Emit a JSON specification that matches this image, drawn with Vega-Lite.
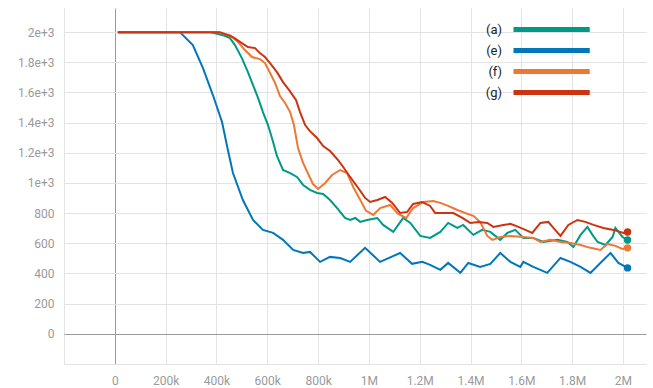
{
  "$schema": "https://vega.github.io/schema/vega-lite/v6.json",
  "width": 582,
  "height": 356,
  "autosize": "none",
  "padding": {"left": 64, "top": 8, "right": 7, "bottom": 24},
  "background": "white",
  "config": {
    "view": {"stroke": null},
    "font": "Roboto",
    "axis": {
      "grid": true, "gridWidth": 1,
      "domain": false, "ticks": false, "title": null, "labelOverlap": false,
      "labelColor": "#9a9a9a", "labelFontSize": 12, "labelFont": "Roboto"
    }
  },
  "data": {"values": [
      {"run":"(e)","step":12000,"value":2000},{"run":"(e)","step":138000,"value":2000},{"run":"(e)","step":256000,"value":2000},{"run":"(e)","step":307000,"value":1914},{"run":"(e)","step":347000,"value":1762},{"run":"(e)","step":386000,"value":1583},{"run":"(e)","step":422000,"value":1404},{"run":"(e)","step":445000,"value":1219},{"run":"(e)","step":465000,"value":1066},{"run":"(e)","step":504000,"value":887},{"run":"(e)","step":544000,"value":755},{"run":"(e)","step":583000,"value":689},{"run":"(e)","step":623000,"value":669},{"run":"(e)","step":662000,"value":623},{"run":"(e)","step":702000,"value":556},{"run":"(e)","step":741000,"value":536},{"run":"(e)","step":768000,"value":543},{"run":"(e)","step":808000,"value":477},{"run":"(e)","step":847000,"value":510},{"run":"(e)","step":887000,"value":503},{"run":"(e)","step":926000,"value":477},{"run":"(e)","step":985000,"value":570},{"run":"(e)","step":1044000,"value":477},{"run":"(e)","step":1123000,"value":536},{"run":"(e)","step":1170000,"value":464},{"run":"(e)","step":1210000,"value":477},{"run":"(e)","step":1241000,"value":457},{"run":"(e)","step":1281000,"value":424},{"run":"(e)","step":1312000,"value":470},{"run":"(e)","step":1360000,"value":404},{"run":"(e)","step":1391000,"value":470},{"run":"(e)","step":1438000,"value":444},{"run":"(e)","step":1478000,"value":464},{"run":"(e)","step":1517000,"value":536},{"run":"(e)","step":1557000,"value":477},{"run":"(e)","step":1596000,"value":444},{"run":"(e)","step":1608000,"value":477},{"run":"(e)","step":1647000,"value":444},{"run":"(e)","step":1702000,"value":404},{"run":"(e)","step":1754000,"value":503},{"run":"(e)","step":1793000,"value":477},{"run":"(e)","step":1833000,"value":444},{"run":"(e)","step":1872000,"value":404},{"run":"(e)","step":1911000,"value":470},{"run":"(e)","step":1951000,"value":536},{"run":"(e)","step":1982000,"value":470},{"run":"(e)","step":2018000,"value":437},

      {"run":"(a)","step":12000,"value":2000},{"run":"(a)","step":374000,"value":2000},{"run":"(a)","step":426000,"value":1980},{"run":"(a)","step":453000,"value":1960},{"run":"(a)","step":473000,"value":1914},{"run":"(a)","step":500000,"value":1828},{"run":"(a)","step":524000,"value":1735},{"run":"(a)","step":544000,"value":1649},{"run":"(a)","step":564000,"value":1563},{"run":"(a)","step":583000,"value":1470},{"run":"(a)","step":603000,"value":1384},{"run":"(a)","step":623000,"value":1272},{"run":"(a)","step":638000,"value":1179},{"run":"(a)","step":662000,"value":1086},{"run":"(a)","step":690000,"value":1066},{"run":"(a)","step":717000,"value":1040},{"run":"(a)","step":741000,"value":987},{"run":"(a)","step":768000,"value":954},{"run":"(a)","step":796000,"value":934},{"run":"(a)","step":820000,"value":927},{"run":"(a)","step":847000,"value":887},{"run":"(a)","step":875000,"value":834},{"run":"(a)","step":906000,"value":768},{"run":"(a)","step":926000,"value":755},{"run":"(a)","step":946000,"value":768},{"run":"(a)","step":966000,"value":742},{"run":"(a)","step":993000,"value":755},{"run":"(a)","step":1033000,"value":768},{"run":"(a)","step":1056000,"value":722},{"run":"(a)","step":1096000,"value":676},{"run":"(a)","step":1135000,"value":768},{"run":"(a)","step":1163000,"value":735},{"run":"(a)","step":1202000,"value":649},{"run":"(a)","step":1241000,"value":636},{"run":"(a)","step":1281000,"value":676},{"run":"(a)","step":1312000,"value":735},{"run":"(a)","step":1348000,"value":702},{"run":"(a)","step":1371000,"value":722},{"run":"(a)","step":1411000,"value":656},{"run":"(a)","step":1446000,"value":689},{"run":"(a)","step":1478000,"value":676},{"run":"(a)","step":1517000,"value":623},{"run":"(a)","step":1545000,"value":669},{"run":"(a)","step":1576000,"value":689},{"run":"(a)","step":1608000,"value":636},{"run":"(a)","step":1647000,"value":636},{"run":"(a)","step":1687000,"value":609},{"run":"(a)","step":1742000,"value":623},{"run":"(a)","step":1781000,"value":609},{"run":"(a)","step":1805000,"value":576},{"run":"(a)","step":1833000,"value":656},{"run":"(a)","step":1860000,"value":709},{"run":"(a)","step":1880000,"value":656},{"run":"(a)","step":1900000,"value":609},{"run":"(a)","step":1931000,"value":589},{"run":"(a)","step":1959000,"value":642},{"run":"(a)","step":1970000,"value":702},{"run":"(a)","step":1998000,"value":642},{"run":"(a)","step":2018000,"value":622},

      {"run":"(f)","step":12000,"value":2000},{"run":"(f)","step":402000,"value":2000},{"run":"(f)","step":453000,"value":1980},{"run":"(f)","step":485000,"value":1934},{"run":"(f)","step":512000,"value":1881},{"run":"(f)","step":540000,"value":1835},{"run":"(f)","step":571000,"value":1821},{"run":"(f)","step":591000,"value":1795},{"run":"(f)","step":611000,"value":1729},{"run":"(f)","step":631000,"value":1662},{"run":"(f)","step":650000,"value":1576},{"run":"(f)","step":670000,"value":1530},{"run":"(f)","step":690000,"value":1470},{"run":"(f)","step":705000,"value":1384},{"run":"(f)","step":721000,"value":1232},{"run":"(f)","step":741000,"value":1133},{"run":"(f)","step":761000,"value":1060},{"run":"(f)","step":780000,"value":993},{"run":"(f)","step":800000,"value":960},{"run":"(f)","step":828000,"value":1000},{"run":"(f)","step":855000,"value":1053},{"run":"(f)","step":887000,"value":1086},{"run":"(f)","step":914000,"value":1066},{"run":"(f)","step":938000,"value":974},{"run":"(f)","step":966000,"value":887},{"run":"(f)","step":989000,"value":815},{"run":"(f)","step":1017000,"value":788},{"run":"(f)","step":1044000,"value":834},{"run":"(f)","step":1084000,"value":854},{"run":"(f)","step":1115000,"value":795},{"run":"(f)","step":1147000,"value":768},{"run":"(f)","step":1174000,"value":834},{"run":"(f)","step":1214000,"value":874},{"run":"(f)","step":1253000,"value":881},{"run":"(f)","step":1281000,"value":868},{"run":"(f)","step":1312000,"value":848},{"run":"(f)","step":1348000,"value":821},{"run":"(f)","step":1379000,"value":801},{"run":"(f)","step":1411000,"value":782},{"run":"(f)","step":1438000,"value":742},{"run":"(f)","step":1466000,"value":649},{"run":"(f)","step":1486000,"value":623},{"run":"(f)","step":1517000,"value":642},{"run":"(f)","step":1557000,"value":649},{"run":"(f)","step":1608000,"value":642},{"run":"(f)","step":1647000,"value":636},{"run":"(f)","step":1675000,"value":609},{"run":"(f)","step":1714000,"value":623},{"run":"(f)","step":1754000,"value":609},{"run":"(f)","step":1793000,"value":603},{"run":"(f)","step":1833000,"value":589},{"run":"(f)","step":1872000,"value":570},{"run":"(f)","step":1911000,"value":556},{"run":"(f)","step":1939000,"value":596},{"run":"(f)","step":1970000,"value":583},{"run":"(f)","step":1998000,"value":563},{"run":"(f)","step":2018000,"value":570},

      {"run":"(g)","step":12000,"value":2000},{"run":"(g)","step":414000,"value":2000},{"run":"(g)","step":465000,"value":1967},{"run":"(g)","step":500000,"value":1927},{"run":"(g)","step":524000,"value":1901},{"run":"(g)","step":552000,"value":1894},{"run":"(g)","step":571000,"value":1861},{"run":"(g)","step":591000,"value":1835},{"run":"(g)","step":611000,"value":1795},{"run":"(g)","step":638000,"value":1735},{"run":"(g)","step":662000,"value":1669},{"run":"(g)","step":686000,"value":1616},{"run":"(g)","step":713000,"value":1550},{"run":"(g)","step":729000,"value":1470},{"run":"(g)","step":749000,"value":1384},{"run":"(g)","step":768000,"value":1344},{"run":"(g)","step":796000,"value":1298},{"run":"(g)","step":820000,"value":1245},{"run":"(g)","step":847000,"value":1212},{"run":"(g)","step":875000,"value":1159},{"run":"(g)","step":899000,"value":1106},{"run":"(g)","step":926000,"value":1040},{"run":"(g)","step":958000,"value":967},{"run":"(g)","step":985000,"value":901},{"run":"(g)","step":1005000,"value":874},{"run":"(g)","step":1033000,"value":887},{"run":"(g)","step":1064000,"value":907},{"run":"(g)","step":1092000,"value":868},{"run":"(g)","step":1123000,"value":801},{"run":"(g)","step":1151000,"value":808},{"run":"(g)","step":1174000,"value":861},{"run":"(g)","step":1210000,"value":874},{"run":"(g)","step":1241000,"value":848},{"run":"(g)","step":1261000,"value":801},{"run":"(g)","step":1293000,"value":801},{"run":"(g)","step":1332000,"value":801},{"run":"(g)","step":1368000,"value":768},{"run":"(g)","step":1399000,"value":735},{"run":"(g)","step":1431000,"value":742},{"run":"(g)","step":1466000,"value":735},{"run":"(g)","step":1490000,"value":709},{"run":"(g)","step":1529000,"value":722},{"run":"(g)","step":1557000,"value":729},{"run":"(g)","step":1588000,"value":709},{"run":"(g)","step":1616000,"value":689},{"run":"(g)","step":1643000,"value":669},{"run":"(g)","step":1675000,"value":735},{"run":"(g)","step":1706000,"value":742},{"run":"(g)","step":1726000,"value":702},{"run":"(g)","step":1754000,"value":649},{"run":"(g)","step":1785000,"value":722},{"run":"(g)","step":1821000,"value":755},{"run":"(g)","step":1852000,"value":742},{"run":"(g)","step":1884000,"value":722},{"run":"(g)","step":1923000,"value":702},{"run":"(g)","step":1963000,"value":689},{"run":"(g)","step":2002000,"value":669},{"run":"(g)","step":2018000,"value":675}
  ]},
  "encoding": {
    "x": {
      "field": "step", "type": "quantitative",
      "scale": {"domain": [-200000, 2090600], "nice": false, "zero": false},
      "axis": {
        "values": [-200000, 0, 200000, 400000, 600000, 800000, 1000000, 1200000, 1400000, 1600000, 1800000, 2000000],
        "labelExpr": "datum.value < 0 ? '' : datum.value == 0 ? '0' : datum.value < 1000000 ? (datum.value/1000) + 'k' : (datum.value/1000000) + 'M'",
        "gridColor": {"condition": {"test": "datum.value === 0", "value": "#9a9a9a"}, "value": "#e3e3e3"},
        "labelPadding": 11, "labelFlush": false, "labelOverlap": false
      }
    },
    "y": {
      "field": "value", "type": "quantitative",
      "scale": {"domain": [-200, 2160], "nice": false, "zero": false},
      "axis": {
        "values": [-200, 0, 200, 400, 600, 800, 1000, 1200, 1400, 1600, 1800, 2000],
        "labelExpr": "datum.value < 0 ? '' : datum.value >= 1000 ? (datum.value/1000) + 'e+3' : datum.label",
        "gridColor": {"condition": {"test": "datum.value === 0", "value": "#9a9a9a"}, "value": "#e3e3e3"},
        "labelPadding": 10, "labelOverlap": false
      }
    },
    "color": {
      "field": "run", "type": "nominal",
      "scale": {"domain": ["(a)", "(e)", "(f)", "(g)"], "range": ["#009988", "#0077bb", "#ee7733", "#cc3311"]},
      "legend": {
        "title": null, "orient": "none", "legendX": 443, "legendY": 15,
        "symbolType": "M0,0H30.5", "symbolSize": 25, "symbolStrokeWidth": 5,
        "rowPadding": 0,
        "labelOffset": -18, "labelAlign": "right",
        "labelFontSize": 13, "labelColor": "#222222", "labelFont": "Roboto",
        "encode": {"symbols": {"update": {"stroke": {"scale": "color", "field": "value"}, "strokeWidth": {"value": 5}, "fill": {"value": "transparent"}, "opacity": {"value": 1}}}}
      }
    }
  },
  "layer": [
    {
      "mark": {"type": "line", "strokeWidth": 2, "clip": true}
    },
    {
      "transform": [{"filter": "datum.step >= 2018000"}],
      "mark": {"type": "point", "filled": true, "size": 55, "opacity": 1}
    }
  ]
}
